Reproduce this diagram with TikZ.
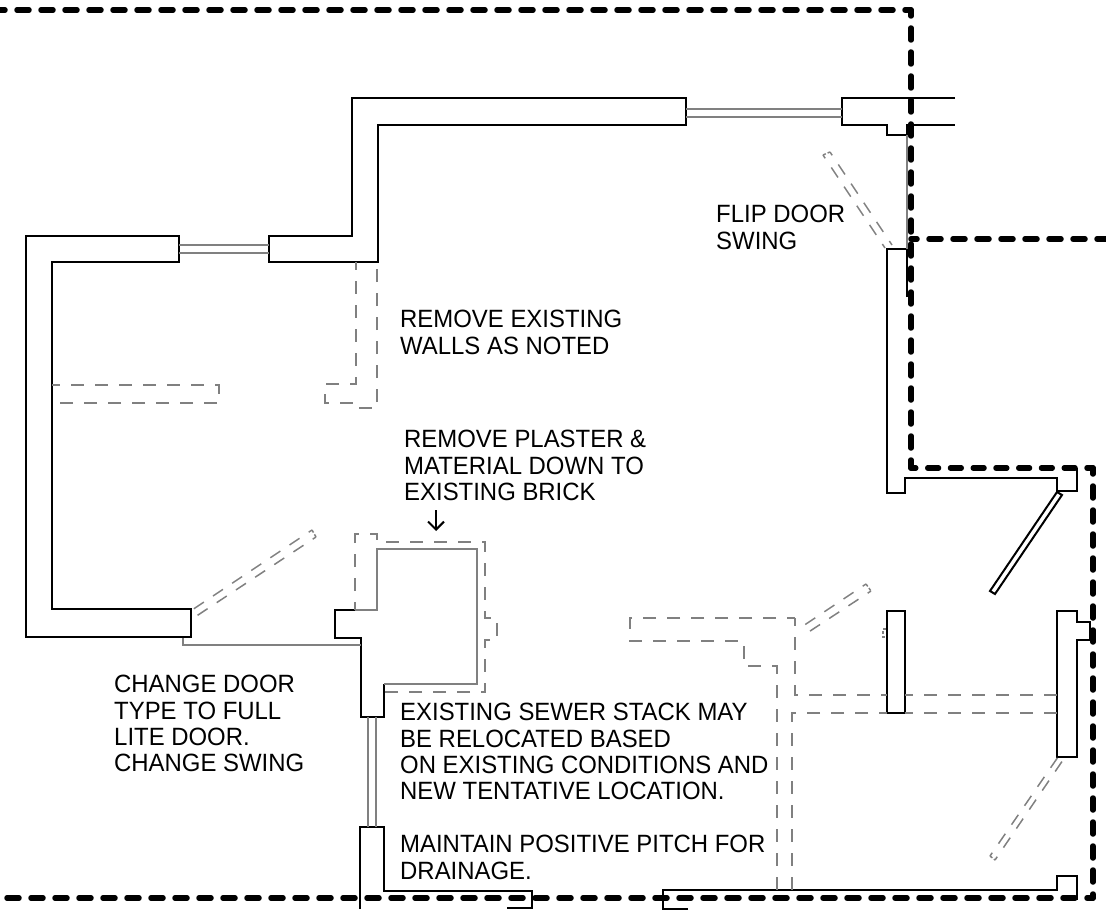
\documentclass[tikz,border=0pt]{standalone}
\usepackage{fontspec}
\usetikzlibrary{arrows.meta}
\newfontfamily\notefont[FakeStretch=0.957]{Liberation Sans}

\tikzset{
  wall/.style = {draw, black, line width = 2pt, line join = miter},
  glass/.style = {draw, gray, line width = 1.6pt},
  demo/.style = {draw, gray, line width = 1.5pt, dash pattern = on 13pt off 11pt, dash phase = 5pt},
  swing/.style = {draw, gray, line width = 1.5pt, dash pattern = on 12pt off 11pt, dash phase = 8pt},
  swingend/.style = {draw, gray, line width = 1.5pt, dash pattern = on 3pt off 2pt},
  bound/.style = {draw, black, line width = 5.5pt, line cap = round, dash pattern = on 12pt off 12pt, dash phase = 6pt},
  note/.style = {anchor = north west, inner sep = 0pt, align = left, font = \notefont\fontsize{25}{26.4}\selectfont}
}

\begin{document}
\begin{tikzpicture} [x = 1pt, y = -1pt, >= {Straight Barb[length = 8pt, width = 16pt]}]

\useasboundingbox (0,0) rectangle (1106,923);

% walls
\draw [wall] (179,236) -- (26,236) -- (26,637) -- (191,637) -- (191,609) -- (52,609) -- (52,262) -- (179,262) -- cycle;
\draw [wall] (269,236) -- (352,236) -- (352,98) -- (686,98) -- (686,125) -- (378,125) -- (378,262) -- (269,262) -- cycle;
\draw [wall] (955,98) -- (842,98) -- (842,125) -- (887,125) -- (887,135) -- (907,135) -- (907,125) -- (955,125);
\draw [wall] (907,297) -- (907,249) -- (887,249) -- (887,493) -- (905,493) -- (905,478) -- (1057,478) -- (1057,491) -- (1077,491) -- (1077,468);
\draw [wall] (1057,492) -- (1062,495) -- (995,594) -- (990,591) -- cycle;
\draw [wall] (887,611) rectangle (905,713);
\draw [wall] (1057,611) -- (1077,611) -- (1077,622) -- (1090,622) -- (1090,640) -- (1077,640) -- (1077,757) -- (1057,757) -- cycle;
\draw [wall] (688,909) -- (663,909) -- (663,890) -- (1057,890) -- (1057,876) -- (1077,876) -- (1077,900);
\draw [wall] (360,909) -- (360,827) -- (384,827) -- (384,891) -- (532,891) -- (532,908) -- (507,908);
\draw [wall] (355,610) -- (335,610) -- (335,638) -- (361,638) -- (361,717) -- (384,717) -- (384,684);

% windows and kept openings
\draw [glass] (179,245) -- (269,245);
\draw [glass] (179,253) -- (269,253);
\draw [glass] (686,109) -- (842,109);
\draw [glass] (686,117) -- (842,117);
\draw [glass] (368,717) -- (368,827);
\draw [glass] (376,717) -- (376,827);
\draw [glass] (907,135) -- (907,249);
\draw [glass] (183,638) -- (183,645) -- (361,645);
\draw [glass] (355,610) -- (377,610) -- (377,549) -- (477,549) -- (477,684) -- (384,684);

% walls to remove
\draw [demo] (356,262) -- (356,384) -- (325,384) -- (325,403) -- (356,403) -- (356,408) -- (377,408) -- (377,262);
\draw [demo] (52,385) -- (219,385) -- (219,403) -- (52,403);
\draw [demo] (355,610) -- (355,534) -- (377,534) -- (377,542) -- (485,542) -- (485,618) -- (497,618) -- (497,640) -- (485,640) -- (485,692) -- (384,692);
\draw [demo] (795,618) -- (630,618) -- (630,641) -- (744,641) -- (744,666) -- (777,666) -- (777,890);
\draw [demo] (795,618) -- (795,695) -- (887,695);
\draw [demo] (887,713) -- (792,713) -- (792,890);
\draw [demo] (905,695) -- (1057,695);
\draw [demo] (905,713) -- (1057,713);

% door swings
\draw [swing] (312,530) -- (192,610);
\draw [swing] (316,537) -- (195,617);
\draw [swingend] (312,530) -- (316,537);
\draw [swing] (866,584) -- (797,630);
\draw [swing] (871,591) -- (801,637);
\draw [swingend] (866,584) -- (871,591);
\draw [swingend] (886,629) -- (883,629) -- (883,637) -- (886,637);
\draw [swing] (990,856) -- (1058,757);
\draw [swing] (995,860) -- (1063,760);
\draw [swingend] (990,856) -- (995,860);
\draw [swing] (823,155) -- (885,248);
\draw [swing] (830,152) -- (892,245);
\draw [swingend] (823,155) -- (830,152);

% property line
\draw [bound] (911,10) -- (0,10);
\draw [bound] (911,10) -- (911,468);
\draw [bound, dash pattern = on 10.75pt off 12pt] (911,468) -- (1093,468);
\draw [bound] (1093,468) -- (1093,898);
\draw [bound] (1093,898) -- (0,898);
\draw [bound] (911,239) -- (1106,239);

% notes
\node [note] (flipnote) at (716,205) {FLIP DOOR\\SWING};
\node [note] (wallsnote) at (400,310) {REMOVE EXISTING\\WALLS AS NOTED};
\node [note] (plasternote) at (404,430) {REMOVE PLASTER \&\\MATERIAL DOWN TO\\EXISTING BRICK};
\node [note] (doornote) at (114,675) {CHANGE DOOR\\TYPE TO FULL\\LITE DOOR.\\CHANGE SWING};
\node [note] (sewernote) at (400,703) {EXISTING SEWER STACK MAY\\BE RELOCATED BASED\\ON EXISTING CONDITIONS AND\\NEW TENTATIVE LOCATION.\\[26.4pt]MAINTAIN POSITIVE PITCH FOR\\DRAINAGE.};

\coordinate (plastertail) at (436,510);
\coordinate (plastertip) at (436,531);
\draw [->, line width = 2pt] (plastertail) -- (plastertip);

\end{tikzpicture}
\end{document}
